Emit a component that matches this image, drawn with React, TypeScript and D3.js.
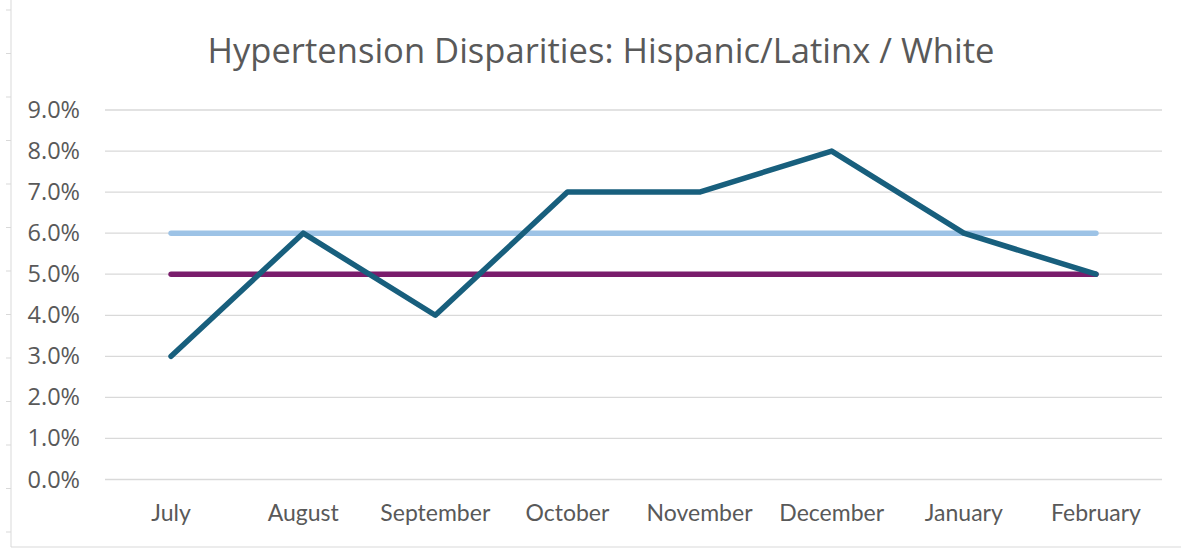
import React from "react";
import * as d3 from "d3";

const months = ["July", "August", "September", "October", "November", "December", "January", "February"];
const disparity = [3, 6, 4, 7, 7, 8, 6, 5];
const goal = [6, 6, 6, 6, 6, 6, 6, 6];
const baseline = [5, 5, 5, 5, 5, 5, 5, 5];
const yTicks = [0, 1, 2, 3, 4, 5, 6, 7, 8, 9];
const title = "Hypertension Disparities: Hispanic/Latinx / White";

const W = 1181, H = 549;
const plot = { left: 105, right: 1162, top: 110, bottom: 479.5 };

export default function App() {
  const x = d3.scaleBand<string>().domain(months).range([plot.left, plot.right]);
  const y = d3.scaleLinear().domain([0, 9]).range([plot.bottom, plot.top]);
  const cx = (m: string) => (x(m) as number) + x.bandwidth() / 2;
  const line = d3.line<number>().x((_, i) => cx(months[i])).y((d) => y(d));
  const font = "'Open Sans', 'Liberation Sans', sans-serif";
  const font2 = "Lato, 'Open Sans', sans-serif";
  const frameTicks = d3.range(10, 540, 43.5);

  return (
    <svg width={W} height={H} style={{ position: "absolute", left: 0, top: 0, background: "#fff" }}>
      <rect x={0} y={0} width={W} height={H} fill="#fff" />
      <line x1={11} y1={0} x2={11} y2={547} stroke="#d9d9d9" strokeWidth={1} />
      <line x1={11} y1={547} x2={W} y2={547} stroke="#d9d9d9" strokeWidth={1} />
      {frameTicks.map((t, i) => (
        <line key={i} x1={6} x2={11} y1={t} y2={t} stroke="#d9d9d9" strokeWidth={1} />
      ))}
      <text x={601} y={63} textAnchor="middle" fontFamily={font} fontSize={34} fill="#595959"
        textLength={787} lengthAdjust="spacingAndGlyphs">
        {title}
      </text>
      {yTicks.map((t) => (
        <g key={t}>
          <line x1={plot.left} x2={plot.right} y1={y(t)} y2={y(t)} stroke="#d9d9d9" strokeWidth={1.3} />
          <text x={80} y={y(t) + 8} textAnchor="end" fontFamily={font} fontSize={23.5} fill="#595959">
            {t.toFixed(1) + "%"}
          </text>
        </g>
      ))}
      {months.map((m) => (
        <text key={m} x={cx(m)} y={521} textAnchor="middle" fontFamily={font2} fontSize={23} fill="#595959">
          {m}
        </text>
      ))}
      <path d={line(goal) || ""} fill="none" stroke="#9dc3e6" strokeWidth={5.5} strokeLinecap="round" />
      <path d={line(baseline) || ""} fill="none" stroke="#7a1d6c" strokeWidth={5.5} strokeLinecap="round" />
      <path d={line(disparity) || ""} fill="none" stroke="#185f7d" strokeWidth={5.5} strokeLinecap="round" strokeLinejoin="round" />
    </svg>
  );
}
